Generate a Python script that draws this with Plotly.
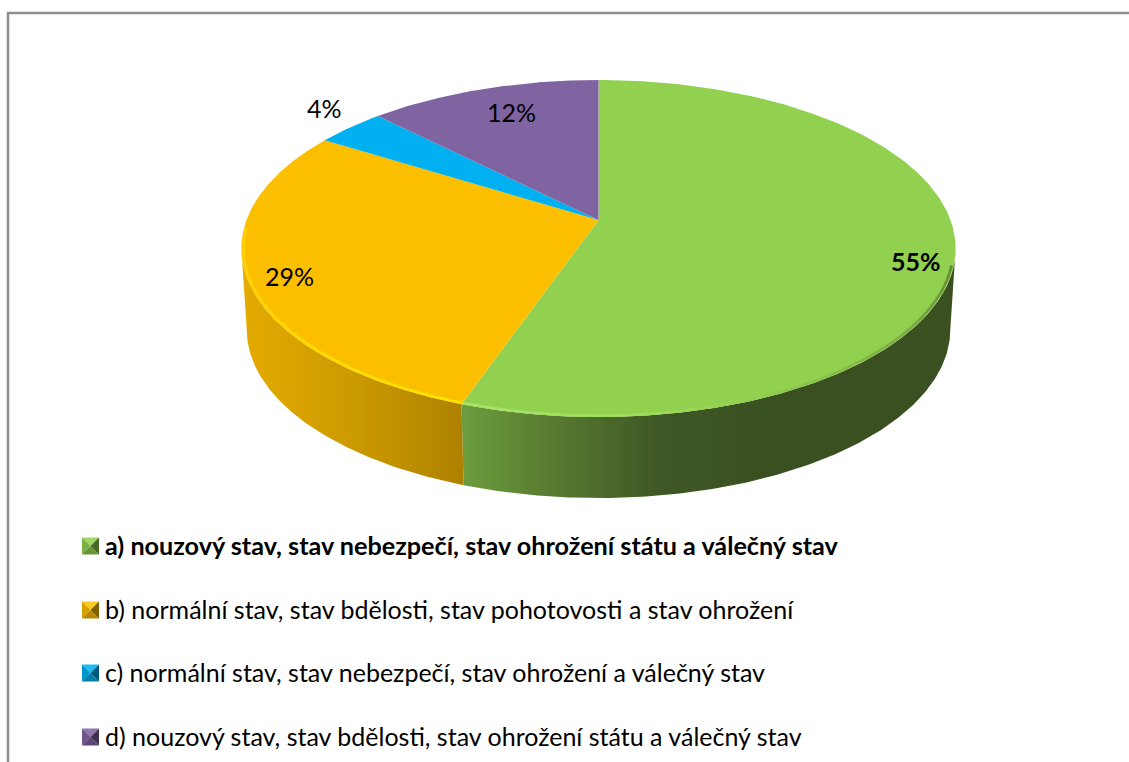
import numpy as np
import plotly.graph_objects as go

# --- data -----------------------------------------------------------------
categories = [
    "a) nouzový stav, stav nebezpečí, stav ohrožení státu a válečný stav",
    "b) normální stav, stav bdělosti, stav pohotovosti a stav ohrožení",
    "c) normální stav, stav nebezpečí, stav ohrožení a válečný stav",
    "d) nouzový stav, stav bdělosti, stav ohrožení státu a válečný stav",
]
values = [55.3, 28.6, 3.7, 12.4]
colors = ["#92D050", "#FCBF00", "#00B0F0", "#8064A2"]

# --- styling / geometry of the tilted disc (pixel-sized axes) --------------
W, H = 1129, 762
CX, CY = 598.5, 220
A, B, K = 352, 163.7, 0.1692
DEPTH, BOTTOM_SCALE = 81, 0.985
FONT = "Lato"
FONT_SIZE = 25
THETA_R = np.arccos(-K)
THETA_L = 2 * np.pi - THETA_R


def project(theta, r=1.0):
    """Perspective projection of a polar point on the top of the disc."""
    u, v = r * np.sin(theta), r * np.cos(theta)
    w = 1 + K * v
    return CX + A * u / w, CY - B * v / w


def drop(x, y):
    return CX + (np.asarray(x) - CX) * BOTTOM_SCALE, np.asarray(y) + DEPTH


def mix(c1, c2, t):
    a = [int(c1[i:i + 2], 16) for i in (1, 3, 5)]
    b = [int(c2[i:i + 2], 16) for i in (1, 3, 5)]
    return "#%02x%02x%02x" % tuple(round(p + (q - p) * t) for p, q in zip(a, b))


def ramp(stops, t):
    for (t0, c0), (t1, c1) in zip(stops, stops[1:]):
        if t <= t1:
            return mix(c0, c1, (t - t0) / (t1 - t0))
    return stops[-1][1]


fractions = np.cumsum([0] + values) / sum(values)
angles = 2 * np.pi * fractions

wall_grad = {
    0: (463, 955, [[0, "#6C9C3E"], [0.2, "#55772F"], [0.4, "#3F5725"], [0.6, "#3A5021"], [1, "#3A5021"]]),
    1: (243, 463, [[0, "#E4AB00"], [0.5, "#CC9A00"], [1, "#AE8200"]]),
}
rim_stops = {
    0: [(0, "#A9E466"), (0.25, "#A0DC5C"), (0.42, "#92D050"), (0.7, "#7DB046"), (1, "#5F8836")],
    1: [(0, "#FFE400"), (1, "#FFD000")],
}

fig = go.Figure()

# side walls (only the front slices show one)
for i, (x0, x1, scale) in wall_grad.items():
    t = np.linspace(max(angles[i], THETA_R), min(angles[i + 1], THETA_L), 160)
    tx, ty = project(t)
    bx, by = drop(tx, ty)
    fig.add_trace(go.Scatter(
        x=np.r_[tx, bx[::-1]], y=np.r_[ty, by[::-1]], mode="lines", fill="toself",
        line=dict(width=0), hoverinfo="skip", showlegend=False,
        fillgradient=dict(type="horizontal", colorscale=scale, start=x0, stop=x1),
    ))

# top faces
for i, col in enumerate(colors):
    t = np.linspace(angles[i], angles[i + 1], 240)
    tx, ty = project(t)
    fig.add_trace(go.Scatter(
        x=np.r_[CX, tx, CX], y=np.r_[CY, ty, CY], mode="lines", fill="toself",
        fillcolor=col, line=dict(width=0), hoverinfo="skip", showlegend=False,
    ))

# bevel highlight along the front rim
for i, stops in rim_stops.items():
    n = 40
    if i == 0:
        t = np.linspace(angles[1], THETA_R + 0.1, n + 1)
    else:
        t = np.linspace(angles[1], THETA_L + 0.12, n + 1)
    for j in range(n):
        sx, sy = project(t[j:j + 2], 0.994)
        fig.add_trace(go.Scatter(
            x=sx, y=sy, mode="lines", line=dict(width=2.6, color=ramp(stops, j / n)),
            hoverinfo="skip", showlegend=False,
        ))

# legend swatches and frame
rows_y = [544.5, 608.5, 671.5, 735.5]
SW_CENTRES = [546, 610, 673, 737]
SW_X0, SW_X1 = 82, 99
annotations = []
for col, yc, yt, cat, i in zip(colors, SW_CENTRES, rows_y, categories, range(4)):
    x0, x1, xm = SW_X0, SW_X1, (SW_X0 + SW_X1) / 2
    y0, y1 = yc - 8.4, yc + 8.4
    tris = [
        ([x0, x1, xm], [y0, y0, yc], mix(col, "#FFFFFF", 0.12)),
        ([x0, x0, xm], [y0, y1, yc], mix(col, "#000000", 0.15)),
        ([x1, x1, xm], [y0, y1, yc], mix(col, "#000000", 0.50)),
        ([x0, x1, xm], [y1, y1, yc], mix(col, "#000000", 0.28)),
    ]
    for xs, ys, c in tris:
        fig.add_trace(go.Scatter(
            x=xs + xs[:1], y=ys + ys[:1], mode="lines", fill="toself", fillcolor=c,
            line=dict(width=0), hoverinfo="skip", showlegend=False,
        ))
    annotations.append(dict(
        x=102.5, y=yt, xref="x", yref="y", text=f"<b>{cat}</b>" if i == 0 else cat,
        showarrow=False, xanchor="left", yanchor="middle",
        font=dict(family=FONT, size=FONT_SIZE + 0.2 if i == 0 else FONT_SIZE, color="#000000"),
    ))

# data labels
label_xy = [(916, 261), (289, 276), (324, 107.5), (511, 112)]
for i, (v, (lx, ly)) in enumerate(zip(values, label_xy)):
    txt = f"{round(v)}%"
    annotations.append(dict(
        x=lx, y=ly, xref="x", yref="y", text=f"<b>{txt}</b>" if i == 0 else txt,
        showarrow=False, xanchor="center", yanchor="middle",
        font=dict(family=FONT, size=FONT_SIZE, color="#000000"),
    ))

fig.update_layout(
    width=W, height=H, autosize=False,
    margin=dict(l=0, r=0, t=0, b=0),
    paper_bgcolor="#FFFFFF", plot_bgcolor="#FFFFFF",
    xaxis=dict(range=[0, W], visible=False, fixedrange=True),
    yaxis=dict(range=[H, 0], visible=False, fixedrange=True),
    showlegend=False,
    annotations=annotations,
    shapes=[
        dict(type="line", xref="x", yref="y", x0=8, x1=8, y0=12, y1=H, line=dict(color="#8E8E8E", width=2.5)),
        dict(type="line", xref="x", yref="y", x0=7, x1=W, y0=13, y1=13, line=dict(color="#8E8E8E", width=2.5)),
    ],
)

fig.write_html(
    "out.html",
    config=dict(displayModeBar=False),
    post_script="document.body.style.margin='0';document.body.style.overflow='hidden';",
)
